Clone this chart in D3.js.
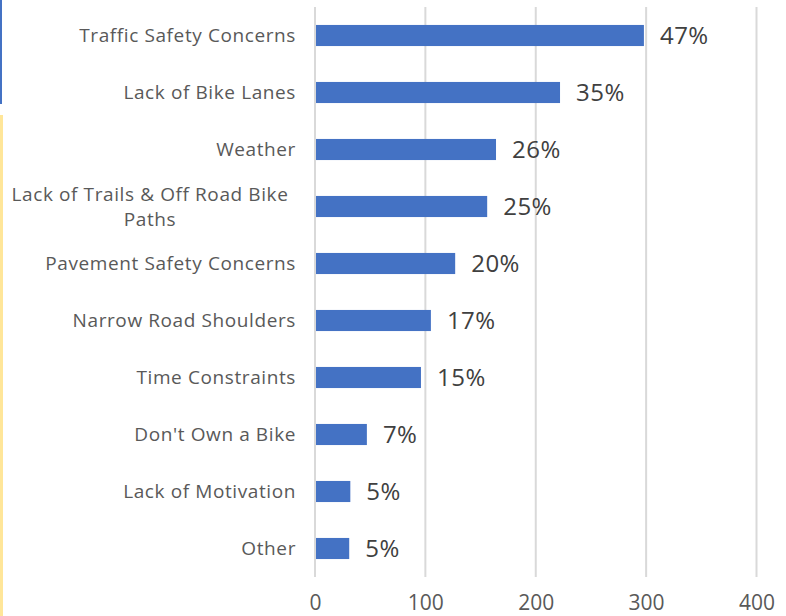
<!DOCTYPE html>
<html lang="en">
<head>
  <meta charset="utf-8" />
  <title>Barriers to Biking</title>
  <script src="https://d3js.org/d3.v7.min.js"></script>
  <style>
    body { margin: 0; background: #fff; }
    svg { display: block; }
    .cat { font-family: "Open Sans", sans-serif; font-size: 19px; letter-spacing: 0.6px; fill: #595959; }
    .val { font-family: "Open Sans", sans-serif; font-size: 24px; letter-spacing: 0.5px; fill: #404040; }
    .tick text { font-family: "Open Sans", sans-serif; font-size: 21px; fill: #595959; }
  </style>
</head>
<body>
  <svg id="chart" width="786" height="616"></svg>
  <script>
    const categories = [
      "Traffic Safety Concerns",
      "Lack of Bike Lanes",
      "Weather",
      "Lack of Trails & Off Road Bike|Paths",
      "Pavement Safety Concerns",
      "Narrow Road Shoulders",
      "Time Constraints",
      "Don't Own a Bike",
      "Lack of Motivation",
      "Other"
    ];
    const counts = [298, 222, 164, 156, 127, 105, 96, 47, 32, 31];
    const percents = ["47%", "35%", "26%", "25%", "20%", "17%", "15%", "7%", "5%", "5%"];
    const xTicks = [0, 100, 200, 300, 400];

    const svg = d3.select("#chart");

    // decorative side strips
    svg.append("rect").attr("x", 0).attr("y", 0).attr("width", 2).attr("height", 104).attr("fill", "#4472C4");
    svg.append("rect").attr("x", 0).attr("y", 115).attr("width", 3).attr("height", 501).attr("fill", "#FFE699");

    const x = d3.scaleLinear().domain([0, 400]).range([315, 756.5]);
    const y = d3.scaleBand().domain(categories).range([7, 577]).paddingInner(0.63).paddingOuter(0.315);

    // gridlines
    svg.append("g").selectAll("line")
      .data(xTicks)
      .join("line")
      .attr("x1", d => x(d)).attr("x2", d => x(d))
      .attr("y1", 7).attr("y2", 577)
      .attr("stroke", "#d9d9d9")
      .attr("stroke-width", 2);

    // bars
    svg.append("g").selectAll("rect")
      .data(counts)
      .join("rect")
      .attr("x", x(0) + 1)
      .attr("y", (d, i) => y(categories[i]))
      .attr("width", d => x(d) - x(0) - 1)
      .attr("height", y.bandwidth())
      .attr("fill", "#4472C4");

    // value labels
    svg.append("g").selectAll("text")
      .data(counts)
      .join("text")
      .attr("class", "val")
      .attr("x", d => x(d) + 16)
      .attr("y", (d, i) => y(categories[i]) + y.bandwidth() / 2)
      .attr("dy", "0.36em")
      .text((d, i) => percents[i]);

    // category labels
    svg.append("g").selectAll("text")
      .data(categories)
      .join("text")
      .attr("class", "cat")
      .each(function(d) {
        const t = d3.select(this);
        const cy = y(d) + y.bandwidth() / 2;
        const parts = d.split("|");
        if (parts.length === 1) {
          t.attr("x", 296).attr("y", cy).attr("dy", "0.35em")
            .attr("text-anchor", "end").text(d);
        } else {
          t.attr("text-anchor", "middle");
          parts.forEach((p, k) => {
            t.append("tspan")
              .attr("x", 150)
              .attr("y", cy + (k - (parts.length - 1) / 2) * 25)
              .attr("dy", "0.35em")
              .text(p);
          });
        }
      });

    // x axis tick labels
    const axis = svg.append("g")
      .attr("transform", "translate(0,577)")
      .call(d3.axisBottom(x).tickValues(xTicks).tickSize(0).tickPadding(18));
    axis.select(".domain").remove();
  </script>
</body>
</html>
